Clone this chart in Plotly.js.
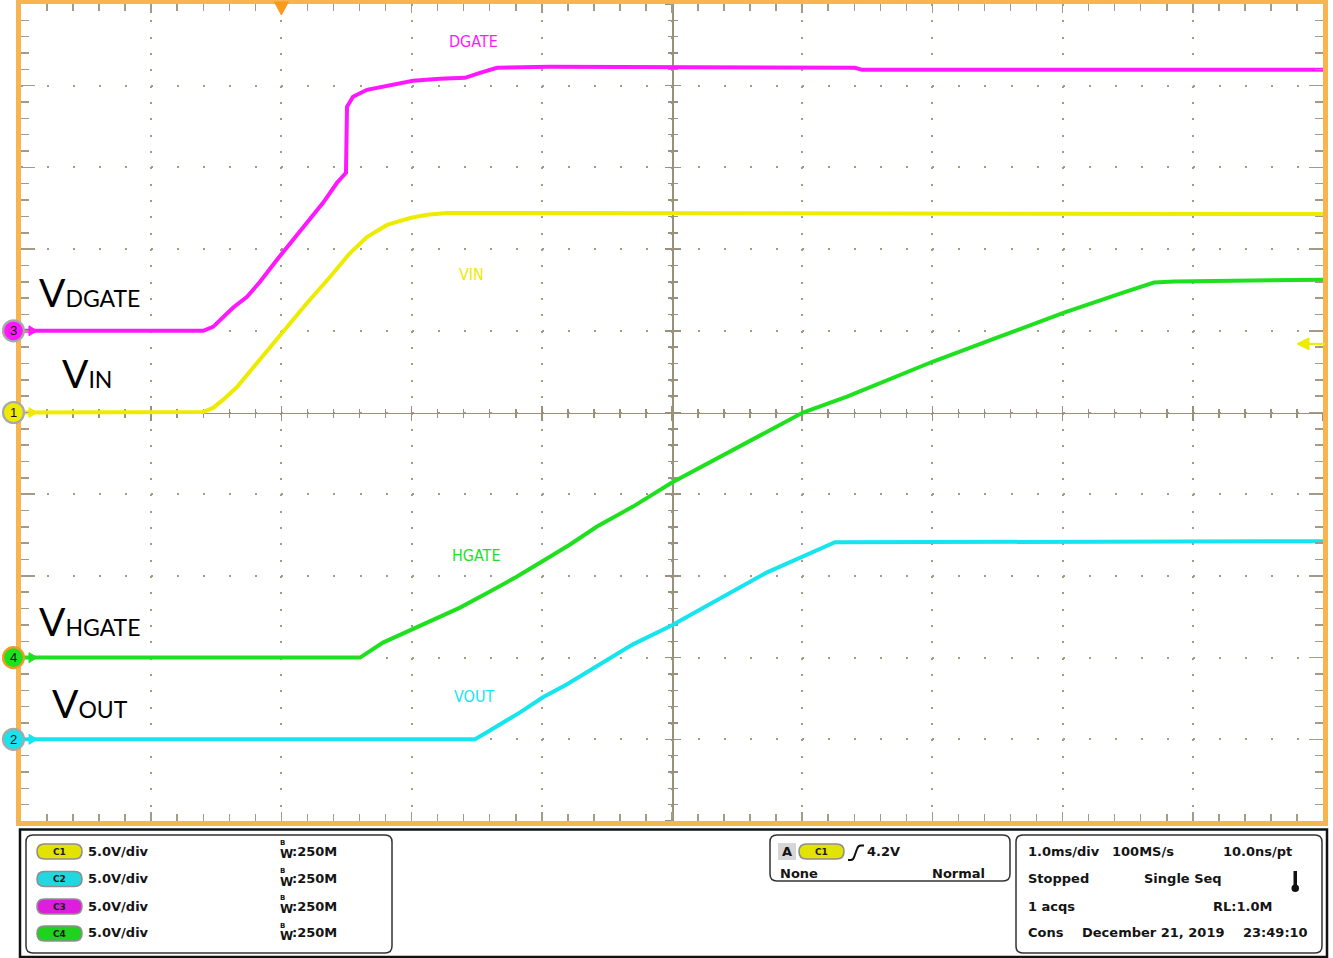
<!DOCTYPE html>
<html><head><meta charset="utf-8">
<script src="https://cdn.plot.ly/plotly-3.0.1.min.js"></script>
<style>html,body{margin:0;padding:0;background:#fff;overflow:hidden}</style>
</head><body><div id="chart" style="width:1333px;height:958px;"></div>
<script>
// ---------------- data (time in ms, voltage in V) ----------------
const tVIN   = [-2, -0.664, -0.602, -0.525, -0.449, -0.341, -0.187, 0.0, 0.197, 0.373, 0.527, 0.657, 0.811, 0.988, 1.12, 1.272, 8];
const vVIN   = [0, 0, 0.03, 0.28, 0.77, 1.56, 3.03, 4.85, 6.70, 8.29, 9.76, 10.74, 11.48, 11.90, 12.10, 12.21, 12.15];

const tDGATE = [-2, -0.60, -0.525, -0.449, -0.372, -0.264, -0.164, -0.034, 0.089, 0.220, 0.320, 0.427, 0.496, 0.504, 0.550, 0.657, 0.811, 1.011, 1.218, 1.410, 1.525, 1.656, 2.063, 4.406, 4.459, 8];
const vDGATE = [0, 0, 0.24, 0.80, 1.41, 2.08, 3.00, 4.35, 5.57, 6.79, 7.83, 9.06, 9.67, 13.71, 14.32, 14.75, 15.00, 15.30, 15.42, 15.48, 15.79, 16.10, 16.16, 16.10, 15.97, 15.97];

const tHGATE = [-2, 0.604, 0.780, 1.003, 1.164, 1.372, 1.602, 1.810, 2.002, 2.217, 2.424, 2.700, 3.000, 3.215, 3.468, 3.776, 4.006, 4.344, 5.005, 5.496, 6.011, 6.487, 6.702, 6.856, 8];
const vHGATE = [0, 0, 0.92, 1.71, 2.33, 3.06, 4.04, 4.96, 5.88, 6.92, 8.02, 9.24, 10.71, 11.63, 12.73, 14.08, 15.00, 15.97, 18.12, 19.58, 21.11, 22.40, 22.95, 23.01, 23.13];

const tVOUT  = [-2, 1.487, 1.579, 1.833, 2.009, 2.194, 2.447, 2.700, 3.000, 3.215, 3.468, 3.730, 3.983, 4.137, 4.252, 8];
const vVOUT  = [0, 0, 0.43, 1.65, 2.57, 3.37, 4.59, 5.81, 6.98, 7.96, 9.06, 10.22, 11.14, 11.69, 12.06, 12.12];

// scope settings
const timeRange = [-2, 8];          // ms, 1.0 ms/div, trigger at 0
const voltsPerDiv = 5;
const chanIds    = ['C1', 'C2', 'C3', 'C4'];
const chanNum    = ['1', '2', '3', '4'];
const chanOffset = [0, -4, 1, -3];  // ground position in divisions from centre
const chanScale  = ['5.0V/div', '5.0V/div', '5.0V/div', '5.0V/div'];
const chanBW     = ['250M', '250M', '250M', '250M'];
const traceLabels = ['VIN', 'VOUT', 'DGATE', 'HGATE'];
const triggerLevel = 4.2;
const infoRows = [['1.0ms/div', '100MS/s', '10.0ns/pt'], ['Stopped', 'Single Seq', ''], ['1 acqs', '', 'RL:1.0M'], ['Cons', 'December 21, 2019', '23:49:10']];

// ---------------- styling ----------------
const ORANGE = '#F8B44F', TRIG = '#F99A1C', GRID = '#A39B86', CENTER = '#9A917C';
const COL = {C1: '#EDEB00', C2: '#16E4EE', C3: '#FF18FF', C4: '#1FE01F'};
const PILL = {C1: '#E3E300', C2: '#22D8E0', C3: '#DD1FDD', C4: '#1ED21E'};

const L = 21, R = 1323, T = 4, B = 821;
const fx = p => (p - L) / (R - L);
const fy = p => (B - p) / (B - T);
const rangeOf = off => [(-5 - off) * voltsPerDiv, (5 - off) * voltsPerDiv];
const groundPaper = off => (5 + off) / 10;

const ann = [], shp = [];
const BOLD = {family: 'DejaVu Sans', size: 13, color: '#141414', weight: 'bold'};
function txt(x, y, text, o) {
  ann.push(Object.assign({xref: 'paper', yref: 'paper', x: fx(x), y: fy(y), text: text, showarrow: false,
    xanchor: 'left', yanchor: 'middle', borderpad: 0, borderwidth: 0, font: BOLD}, o || {}));
}
function pathPx(tokens) {
  let out = '', i = 0;
  while (i < tokens.length) {
    const t = tokens[i];
    if (typeof t === 'string') { out += t; i++; if (t === 'Z') out += ' '; continue; }
    out += fx(t).toFixed(5) + ',' + fy(tokens[i + 1]).toFixed(5) + ' ';
    i += 2;
  }
  return out.trim();
}
function rrect(x0, y0, x1, y1, r) {
  return pathPx(['M', x0 + r, y0, 'L', x1 - r, y0, 'Q', x1, y0, x1, y0 + r, 'L', x1, y1 - r, 'Q', x1, y1, x1 - r, y1,
    'L', x0 + r, y1, 'Q', x0, y1, x0, y1 - r, 'L', x0, y0 + r, 'Q', x0, y0, x0 + r, y0, 'Z']);
}
function addShape(o) { shp.push(Object.assign({xref: 'paper', yref: 'paper', layer: 'above'}, o)); }

// ---------------- traces ----------------
function tr(t, v, color, yax) {
  return {x: t, y: v, type: 'scatter', mode: 'lines', line: {color: color, width: 4}, xaxis: 'x', yaxis: yax, hoverinfo: 'skip', showlegend: false};
}
const data = [
  tr(tVOUT, vVOUT, COL.C2, 'y2'),
  tr(tHGATE, vHGATE, COL.C4, 'y4'),
  tr(tVIN, vVIN, COL.C1, 'y'),
  tr(tDGATE, vDGATE, COL.C3, 'y3'),
  {x: [], y: [], xaxis: 'x2', yaxis: 'y5', type: 'scatter', showlegend: false},
  {x: [], y: [], xaxis: 'x3', yaxis: 'y6', type: 'scatter', showlegend: false}
];

// ---------------- in-plot labels ----------------
const NARROW = 'Liberation Sans Narrow, Arial Narrow, DejaVu Sans Condensed, sans-serif';
const labelPos = {VIN: [471, 274, COL.C1], VOUT: [474, 696, COL.C2], DGATE: [473.5, 42, COL.C3], HGATE: [476.5, 555, COL.C4]};
traceLabels.forEach(n => {
  const p = labelPos[n];
  txt(p[0], p[1], n, {xanchor: 'center', font: {family: NARROW, size: 16, color: p[2]}});
});

// big labels
const BIG = {family: 'Lato, Carlito, sans-serif', size: 39, color: '#000'};
[['DGATE', 39, 292], ['IN', 62, 373], ['HGATE', 39, 621], ['OUT', 52, 703]].forEach(b => {
  txt(b[1], b[2], 'V<span style="font-size:23px">' + b[0] + '</span>', {font: BIG});
});

// channel ground markers
chanIds.forEach((c, i) => {
  const gy = groundPaper(chanOffset[i]);
  addShape({type: 'circle', xsizemode: 'pixel', ysizemode: 'pixel', xanchor: fx(13.5), yanchor: gy,
    x0: -10.5, x1: 10.5, y0: -10.5, y1: 10.5, fillcolor: COL[c], line: {color: c === 'C4' ? '#F59A23' : '#A8A8A8', width: 2.2}});
  addShape({type: 'path', xsizemode: 'pixel', ysizemode: 'pixel', xanchor: fx(21), yanchor: gy,
    path: 'M8,5 L16,0 L8,-5 Z', fillcolor: COL[c], line: {color: COL[c], width: 1}});
  ann.push({xref: 'paper', yref: 'paper', x: fx(13.5), y: gy, text: chanNum[i], showarrow: false, xanchor: 'center', yanchor: 'middle',
    borderpad: 0, font: {family: 'Liberation Sans, Arial, sans-serif', size: 13, color: '#111'}});
});

// trigger position marker (top) and trigger level arrow (right, channel 1)
addShape({type: 'path', xref: 'x', xsizemode: 'pixel', xanchor: 0, ysizemode: 'pixel', yanchor: 1,
  path: 'M-7,2 L7,2 L0,-11 Z', fillcolor: TRIG, line: {color: TRIG, width: 1}});
addShape({type: 'path', yref: 'y', xsizemode: 'pixel', ysizemode: 'pixel', xanchor: 1, yanchor: triggerLevel,
  path: 'M-26,0 L-14,6 L-14,-6 Z', fillcolor: COL.C1, line: {color: COL.C1, width: 1}});
addShape({type: 'path', yref: 'y', xsizemode: 'pixel', ysizemode: 'pixel', xanchor: 1, yanchor: triggerLevel,
  path: 'M-15,0 L2,0', line: {color: COL.C1, width: 2}});

// ---------------- bottom panel ----------------
addShape({type: 'rect', x0: fx(20), x1: fx(1327), y0: fy(829.5), y1: fy(957), line: {color: '#111', width: 2.5}});
addShape({type: 'path', path: rrect(26, 835, 392, 953, 7), line: {color: '#333', width: 1.5}});
addShape({type: 'path', path: rrect(770, 835, 1010, 881, 7), line: {color: '#333', width: 1.5}});
addShape({type: 'path', path: rrect(1016, 835, 1322, 953, 7), line: {color: '#333', width: 1.5}});

const rowY = [851, 878.5, 906, 933];
function pill(x0, x1, yc, c) {
  addShape({type: 'path', path: rrect(x0, yc - 7.5, x1, yc + 7.5, 7.5), fillcolor: PILL[c], line: {color: '#8E8E8E', width: 1.6}});
  txt((x0 + x1) / 2, yc, c, {xanchor: 'center', font: {family: 'DejaVu Sans', size: 9, color: '#1a1a1a', weight: 'bold'}});
}
chanIds.forEach((c, i) => {
  const y = rowY[i];
  pill(37, 82, y + 0.5, c);
  txt(88, y, chanScale[i]);
  txt(279.5, y - 7.5, 'B', {font: {family: 'DejaVu Sans', size: 7, color: '#141414', weight: 'bold'}});
  txt(280, y + 3, 'W', {font: {family: 'DejaVu Sans', size: 12, color: '#141414', weight: 'bold'}});
  txt(292, y, ':' + chanBW[i]);
});

// trigger box
addShape({type: 'rect', x0: fx(778), x1: fx(796), y0: fy(843), y1: fy(860), fillcolor: '#D6D6D6', line: {width: 0}});
txt(787, 851.5, 'A', {xanchor: 'center'});
pill(799, 844, 851.5, 'C1');
addShape({type: 'path', path: pathPx(['M', 848, 860, 'L', 851, 860, 'Q', 853.5, 860, 854.5, 856, 'L', 857, 849, 'Q', 858, 845.5, 861, 845.5, 'L', 864, 845.5]),
  line: {color: '#111', width: 2}});
txt(867, 851, triggerLevel.toFixed(1) + 'V');
txt(780, 873, 'None');
txt(985, 873, 'Normal', {xanchor: 'right'});

// info box
const infoX = [[1028, 'left'], [1112, 'left'], [1292, 'right']];
const infoX2 = {1: [1144, 'left'], 3: [1082, 'left']};
infoRows.forEach((row, r) => {
  row.forEach((s, k) => {
    if (!s) return;
    let x = infoX[k][0], a = infoX[k][1];
    if (k === 1 && infoX2[r]) { x = infoX2[r][0]; a = infoX2[r][1]; }
    if (k === 2 && r === 2) x = 1272;
    if (k === 2 && r === 3) x = 1308;
    txt(x, rowY[r], s, {xanchor: a});
  });
});
// thermometer icon
addShape({type: 'rect', x0: fx(1293.5), x1: fx(1297), y0: fy(871), y1: fy(886), fillcolor: '#111', line: {width: 0}});
addShape({type: 'circle', x0: fx(1291.5), x1: fx(1299), y0: fy(884.5), y1: fy(892), fillcolor: '#111', line: {width: 0}});

// ---------------- axes ----------------
const xdiv = (R - L) / 10, ydiv = (B - T) / 10;
const tickCommon = {showticklabels: false, zeroline: false, fixedrange: true};
const layout = {
  width: 1333, height: 958, margin: {l: L, r: 1333 - R, t: T, b: 958 - B},
  paper_bgcolor: '#ffffff', plot_bgcolor: '#ffffff', showlegend: false,
  xaxis: Object.assign({range: timeRange, domain: [0, 1], dtick: 1, tick0: 0, showgrid: true, gridcolor: GRID, gridwidth: 2,
    griddash: '2px,' + (ydiv / 5 - 2).toFixed(2) + 'px', showline: true, linecolor: ORANGE, linewidth: 5, mirror: 'ticks',
    ticks: 'inside', ticklen: 9, tickwidth: 1.5, tickcolor: GRID,
    minor: {dtick: 0.2, tick0: 0, ticks: 'inside', ticklen: 7, tickwidth: 1.5, tickcolor: GRID, showgrid: false}}, tickCommon),
  xaxis2: Object.assign({overlaying: 'x', anchor: 'free', position: 0.5, range: timeRange, dtick: 1, tick0: 0, showgrid: false,
    showline: true, linecolor: CENTER, linewidth: 1.5, ticks: 'inside', ticklen: 7, tickwidth: 1.5, tickcolor: CENTER, layer: 'below traces',
    minor: {dtick: 0.2, tick0: 0, ticks: 'inside', ticklen: 4, tickwidth: 1.5, tickcolor: CENTER}}, tickCommon),
  xaxis3: Object.assign({overlaying: 'x', anchor: 'free', position: 0.5, range: timeRange, dtick: 1, tick0: 0, showgrid: false,
    showline: false, ticks: 'outside', ticklen: 7, tickwidth: 1.5, tickcolor: CENTER, layer: 'below traces',
    minor: {dtick: 0.2, tick0: 0, ticks: 'outside', ticklen: 4, tickwidth: 1.5, tickcolor: CENTER}}, tickCommon),
  yaxis: Object.assign({range: rangeOf(chanOffset[0]), domain: [0, 1], dtick: voltsPerDiv, tick0: 0, showgrid: true, gridcolor: GRID, gridwidth: 2,
    griddash: '2px,' + (xdiv / 5 - 2).toFixed(2) + 'px', showline: true, linecolor: ORANGE, linewidth: 5, mirror: 'ticks',
    ticks: 'inside', ticklen: 14, tickwidth: 1.5, tickcolor: GRID,
    minor: {dtick: voltsPerDiv / 5, tick0: 0, ticks: 'inside', ticklen: 8, tickwidth: 1.5, tickcolor: GRID, showgrid: false}}, tickCommon),
  yaxis2: {overlaying: 'y', range: rangeOf(chanOffset[1]), visible: false, fixedrange: true},
  yaxis3: {overlaying: 'y', range: rangeOf(chanOffset[2]), visible: false, fixedrange: true},
  yaxis4: {overlaying: 'y', range: rangeOf(chanOffset[3]), visible: false, fixedrange: true},
  yaxis5: Object.assign({overlaying: 'y', anchor: 'free', position: 0.5, range: rangeOf(0), dtick: voltsPerDiv, tick0: 0, showgrid: false,
    showline: true, linecolor: CENTER, linewidth: 1.5, ticks: 'inside', ticklen: 7, tickwidth: 1.5, tickcolor: CENTER, layer: 'below traces',
    minor: {dtick: voltsPerDiv / 5, tick0: 0, ticks: 'inside', ticklen: 4, tickwidth: 1.5, tickcolor: CENTER}}, tickCommon),
  yaxis6: Object.assign({overlaying: 'y', anchor: 'free', position: 0.5, range: rangeOf(0), dtick: voltsPerDiv, tick0: 0, showgrid: false,
    showline: false, ticks: 'outside', ticklen: 7, tickwidth: 1.5, tickcolor: CENTER, layer: 'below traces',
    minor: {dtick: voltsPerDiv / 5, tick0: 0, ticks: 'outside', ticklen: 4, tickwidth: 1.5, tickcolor: CENTER}}, tickCommon),
  shapes: shp,
  annotations: ann
};
Plotly.newPlot('chart', data, layout, {displayModeBar: false, staticPlot: true});
</script>
</body></html>
